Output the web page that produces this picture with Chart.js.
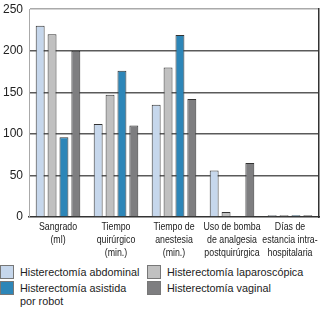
<!DOCTYPE html>
<html>
<head>
<meta charset="utf-8">
<script src="https://cdn.jsdelivr.net/npm/chart.js@4/dist/chart.umd.min.js"></script>
<style>
  html, body { margin: 0; padding: 0; background: #fff; }
  #wrap { position: relative; width: 321px; height: 309px; overflow: hidden; font-family: "Liberation Sans", Arial, sans-serif; }
  #box { position: absolute; left: 0; top: -4px; width: 321px; height: 266px; }
  #legend { position: absolute; left: 0; top: 265px; width: 321px; }
  .item { position: absolute; font-size: 10.8px; line-height: 13px; color: #222; }
  .sw { position: absolute; left: 0; top: 0; width: 12px; height: 12px; border: 1px solid #777; }
  .tx { position: absolute; left: 20px; top: 1px; white-space: nowrap; }
</style>
</head>
<body>
<div id="wrap">
  <div id="box"><canvas id="c"></canvas></div>
  <div id="legend"></div>
</div>
<script>
const categories = [
  ["Sangrado", "(ml)"],
  ["Tiempo", "quirúrgico", "(min.)"],
  ["Tiempo de", "anestesia", "(min.)"],
  ["Uso de bomba", "de analgesia", "postquirúrgica"],
  ["Días de", "estancia intra-", "hospitalaria"]
];
const seriesNames = [
  "Histerectomía abdominal",
  "Histerectomía laparoscópica",
  ["Histerectomía asistida", "por robot"],
  "Histerectomía vaginal"
];
const abdominal     = [230, 112, 135, 56, 2];
const laparoscopica = [220, 147, 180, 6, 2];
const robot         = [96, 176, 219, 0, 2];
const vaginal       = [200, 110, 142, 65, 2];
const yTicks = [0, 50, 100, 150, 200, 250];

const colors = ["#c6d7ec", "#c0c0c0", "#2d86b8", "#7e7e80"];
const seriesValues = [abdominal, laparoscopica, robot, vaginal];

const datasets = seriesValues.map((vals, i) => ({
  label: Array.isArray(seriesNames[i]) ? seriesNames[i].join(" ") : seriesNames[i],
  data: vals,
  backgroundColor: colors[i],
  borderColor: "#333",
  borderWidth: 1,
  categoryPercentage: 0.82,
  barPercentage: 0.75
}));

// Draws the multi-line category labels (condensed) at the x scale's tick positions
const condensedLabels = {
  id: "condensedLabels",
  afterDraw(chart) {
    const xs = chart.scales.x;
    const ctx = chart.ctx;
    ctx.save();
    ctx.font = "11px 'Liberation Sans', Arial, sans-serif";
    ctx.fillStyle = "#222";
    ctx.textAlign = "center";
    ctx.textBaseline = "middle";
    xs.ticks.forEach((t, i) => {
      const cx = xs.getPixelForTick(i);
      const lines = categories[i];
      lines.forEach((ln, j) => {
        ctx.save();
        ctx.translate(cx, xs.top + 9.5 + j * 13);
        ctx.scale(0.8, 1);
        ctx.fillText(ln, 0, 0);
        ctx.restore();
      });
    });
    ctx.restore();
  }
};

new Chart(document.getElementById("c"), {
  type: "bar",
  data: { labels: categories, datasets },
  plugins: [condensedLabels],
  options: {
    responsive: true,
    maintainAspectRatio: false,
    animation: false,
    layout: { padding: { top: 0, right: 0, bottom: 0, left: 0 } },
    plugins: { legend: { display: false }, tooltip: { enabled: false } },
    scales: {
      x: {
        grid: { display: false, drawTicks: false },
        border: { color: "#333", width: 1.5 },
        ticks: { display: false },
        afterFit: (s) => { s.height = 45; }
      },
      y: {
        min: 0, max: 250,
        afterBuildTicks: (s) => { s.ticks = yTicks.map(v => ({ value: v })); },
        afterFit: (s) => { s.width = 29; },
        grid: {
          drawTicks: false,
          color: (ctx) => ctx.tick && ctx.tick.value === 250 ? "#aaaaaa" : (ctx.tick && ctx.tick.value === 0 ? "rgba(0,0,0,0)" : "#5a5a5a"),
          lineWidth: 1.5
        },
        border: { color: "#aaaaaa", width: 1 },
        ticks: {
          color: "#222",
          font: { family: "'Liberation Sans', Arial", size: 12 },
          padding: 6
        }
      },
      y2: {
        position: "right",
        min: 0, max: 250,
        afterFit: (s) => { s.width = 2; },
        grid: { display: false, drawTicks: false },
        border: { color: "#333", width: 1.5 },
        ticks: { display: false }
      }
    }
  }
});

// HTML legend built from the series names and colors
const legend = document.getElementById("legend");
const pos = [[0, 0], [147, 0], [0, 16], [147, 16]];
seriesNames.forEach((name, i) => {
  const it = document.createElement("div");
  it.className = "item";
  it.style.left = pos[i][0] + "px";
  it.style.top = pos[i][1] + "px";
  const sw = document.createElement("div");
  sw.className = "sw";
  sw.style.background = colors[i];
  const tx = document.createElement("div");
  tx.className = "tx";
  tx.innerHTML = Array.isArray(name) ? name.join("<br>") : name;
  it.appendChild(sw); it.appendChild(tx);
  legend.appendChild(it);
});
</script>
</body>
</html>
